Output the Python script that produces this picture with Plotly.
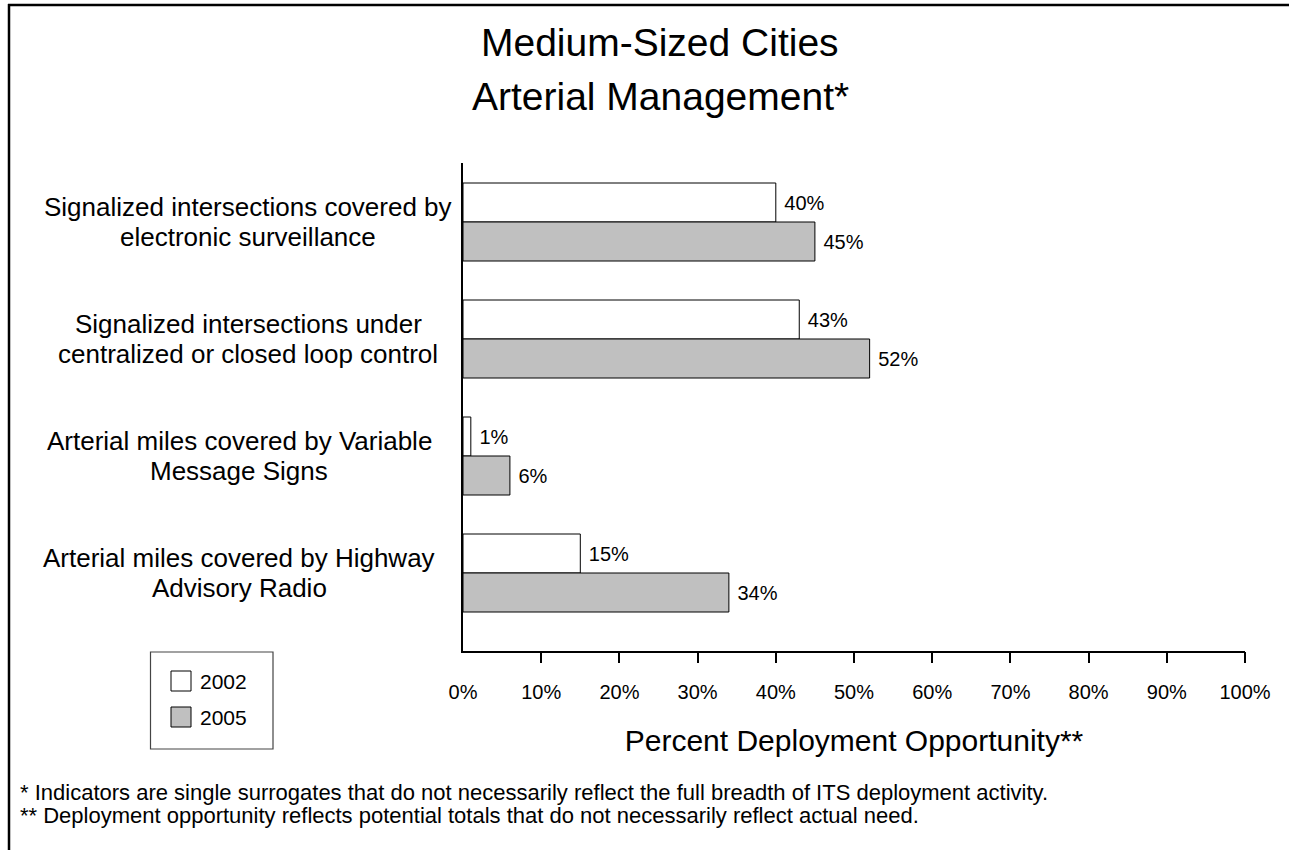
import plotly.graph_objects as go

# ---- data -------------------------------------------------------------
categories = [
    "Signalized intersections covered by electronic surveillance",
    "Signalized intersections under centralized or closed loop control",
    "Arterial miles covered by Variable Message Signs",
    "Arterial miles covered by Highway Advisory Radio",
]
label_lines = [
    ["Signalized intersections covered by", "electronic surveillance"],
    ["Signalized intersections under", "centralized or closed loop control"],
    ["Arterial miles covered by Variable", "Message Signs"],
    ["Arterial miles covered by Highway", "Advisory Radio"],
]
values_2002 = [40, 43, 1, 15]
values_2005 = [45, 52, 6, 34]
series_names = ["2002", "2005"]
x_tick_values = [0, 10, 20, 30, 40, 50, 60, 70, 80, 90, 100]
x_tick_labels = [f"{v}%" for v in x_tick_values]

title_lines = ["Medium-Sized Cities", "Arterial Management*"]
x_title = "Percent Deployment Opportunity**"
footnotes = [
    "* Indicators are single surrogates that do not necessarily reflect the full breadth of ITS deployment activity.",
    "** Deployment opportunity reflects potential totals that do not necessarily reflect actual need.",
]

# ---- page geometry (pixels) -------------------------------------------
W, H = 1289, 850
PLOT_L, PLOT_R, PLOT_T, PLOT_B = 463, 1245, 163, 651
FONT = "Liberation Sans, Arial, sans-serif"
GREY = "#c0c0c0"


def px_x(p):
    return (p - PLOT_L) / (PLOT_R - PLOT_L)


def px_y(p):
    return (PLOT_B - p) / (PLOT_B - PLOT_T)


def pct_labels(values):
    # a leading no-break space keeps the label clear of the bar end
    return ["\u00a0" + str(v) + "%" for v in values]


fig = go.Figure()

fig.add_trace(go.Bar(
    y=categories, x=values_2002, name=series_names[0], orientation="h",
    marker=dict(color="white", line=dict(color="black", width=1)),
    text=pct_labels(values_2002), textposition="outside",
    textfont=dict(family=FONT, size=20, color="black"),
    cliponaxis=False, showlegend=False, hoverinfo="x+y",
))
fig.add_trace(go.Bar(
    y=categories, x=values_2005, name=series_names[1], orientation="h",
    marker=dict(color=GREY, line=dict(color="black", width=1)),
    text=pct_labels(values_2005), textposition="outside",
    textfont=dict(family=FONT, size=20, color="black"),
    cliponaxis=False, showlegend=False, hoverinfo="x+y",
))
# invisible trace that carries the tick-mark axis
fig.add_trace(go.Scatter(x=[0], y=[categories[0]], xaxis="x2", mode="markers",
                         marker=dict(opacity=0), showlegend=False, hoverinfo="skip"))

annotations = []
# category labels, one annotation per line, centred
label_centres = [248, 248, 239, 239]
for cat, lines, cx in zip(categories, label_lines, label_centres):
    for line, shift in zip(lines, [15, -15]):
        annotations.append(dict(
            x=px_x(cx), xref="paper", y=cat, yref="y", yshift=shift,
            text=line, showarrow=False, xanchor="center", yanchor="middle",
            font=dict(family=FONT, size=26, color="black"),
        ))

# two-line title
for line, py in zip(title_lines, [43, 97]):
    annotations.append(dict(
        x=px_x(660), xref="paper", y=px_y(py), yref="paper",
        text=line, showarrow=False, xanchor="center", yanchor="middle",
        font=dict(family=FONT, size=39, color="black"),
    ))

# footnotes
for line, py in zip(footnotes, [792, 815]):
    annotations.append(dict(
        x=px_x(18), xref="paper", y=px_y(py), yref="paper",
        text=line, showarrow=False, xanchor="left", yanchor="middle",
        font=dict(family=FONT, size=22, color="black"),
    ))

# legend text
for name, py in zip(series_names, [681, 717]):
    annotations.append(dict(
        x=px_x(198), xref="paper", y=px_y(py), yref="paper",
        text=name, showarrow=False, xanchor="left", yanchor="middle",
        font=dict(family=FONT, size=21, color="black"),
    ))

shapes = [
    # outer frame (left and top edges)
    dict(type="line", xref="paper", yref="paper",
         x0=px_x(9), x1=px_x(9), y0=px_y(4), y1=px_y(H + 5),
         line=dict(color="black", width=2.5)),
    dict(type="line", xref="paper", yref="paper",
         x0=px_x(8), x1=px_x(W + 5), y0=px_y(5), y1=px_y(5),
         line=dict(color="black", width=2.5)),
    # legend box
    dict(type="rect", xref="paper", yref="paper",
         x0=px_x(150.5), x1=px_x(273), y0=px_y(652), y1=px_y(749),
         line=dict(color="#444444", width=1.2), fillcolor="white"),
    # legend swatches
    dict(type="rect", xref="paper", yref="paper",
         x0=px_x(171), x1=px_x(191), y0=px_y(671), y1=px_y(691),
         line=dict(color="black", width=1), fillcolor="white"),
    dict(type="rect", xref="paper", yref="paper",
         x0=px_x(171), x1=px_x(191), y0=px_y(707), y1=px_y(727),
         line=dict(color="black", width=1), fillcolor=GREY),
]

n = len(categories)
unit = 117.0  # pixels per category step
y_top = -(222 - PLOT_T) / unit
y_bot = (n - 1) + (PLOT_B - 573) / unit

fig.update_layout(
    width=W, height=H,
    margin=dict(l=PLOT_L, r=W - PLOT_R, t=PLOT_T, b=H - PLOT_B, pad=0),
    paper_bgcolor="white", plot_bgcolor="white",
    barmode="group", bargap=1 / 3, bargroupgap=0,
    showlegend=False,
    font=dict(family=FONT, color="black"),
    xaxis=dict(
        range=[0, 100], tickvals=x_tick_values, ticktext=x_tick_labels,
        ticks="", showgrid=False, zeroline=False,
        showline=True, linecolor="black", linewidth=1.5,
        tickfont=dict(family=FONT, size=20, color="black"),
        ticklabelstandoff=22,
        title=dict(text=x_title, font=dict(family=FONT, size=30, color="black"),
                   standoff=28),
    ),
    xaxis2=dict(
        range=[0, 100], overlaying="x", side="bottom",
        tickvals=x_tick_values[1:], ticks="outside", ticklen=11, tickwidth=1.5,
        tickcolor="black", showticklabels=False, showgrid=False, zeroline=False,
        showline=False,
    ),
    yaxis=dict(
        type="category", categoryarray=categories, range=[y_bot, y_top],
        showticklabels=False, ticks="", showgrid=False, zeroline=False,
        showline=True, linecolor="black", linewidth=1.5,
    ),
    annotations=annotations,
    shapes=shapes,
)

fig.write_html("out.html", config={"displayModeBar": False})
